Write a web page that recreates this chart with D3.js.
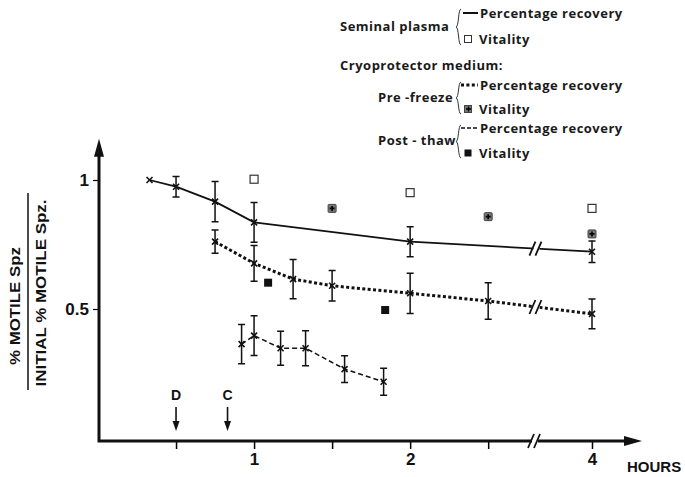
<!DOCTYPE html>
<html>
<head>
<meta charset="utf-8">
<script src="https://cdn.jsdelivr.net/npm/d3@7"></script>
<style>
  body { margin: 0; background: #fff; }
  svg { display: block; font-family: 'Liberation Sans', Arial, sans-serif; }
</style>
</head>
<body>
<div id="chart"></div>
<script>
// values: time in hours, ratio of motile spz to initial
const plasmaHours = [0.33, 0.5, 0.75, 1, 2, 4];
const plasmaRecovery = [1.0, 0.974, 0.916, 0.836, 0.761, 0.722];
const plasmaError = [0, 0.04, 0.078, 0.077, 0.058, 0.042];
const plasmaVitalityHours = [1, 2, 4];
const plasmaVitality = [1.003, 0.951, 0.89];

const preHours = [0.75, 1, 1.25, 1.5, 2, 2.5, 4];
const preRecovery = [0.761, 0.677, 0.616, 0.59, 0.561, 0.531, 0.481];
const preError = [0.045, 0.069, 0.076, 0.059, 0.078, 0.071, 0.058];
const preVitalityHours = [1.5, 2.5, 4];
const preVitality = [0.89, 0.858, 0.791];

const postHours = [0.92, 1, 1.17, 1.33, 1.58, 1.83];
const postRecovery = [0.364, 0.397, 0.348, 0.348, 0.267, 0.218];
const postError = [0.076, 0.077, 0.066, 0.068, 0.052, 0.052];
const postVitalityHours = [1.09, 1.84];
const postVitality = [0.602, 0.496];

const xTicks = [0.5, 1, 1.5, 2, 2.5, 4];
const xTickLabels = ['', '1', '', '2', '', '4'];
const yTicks = [0.5, 1];
const yTickLabels = ['0.5', '1'];
const eventLabels = ['D', 'C'];
const eventHours = [0.5, 0.83];
const breakHour = 2.8;

class MotilityChart {
  constructor(selector) {
    this.selector = selector;
    this.svg = null;
    this.width = 685;
    this.height = 477;
    this.origin = { x: 99, y: 441 };
    this.scales = { x: null, y: null };
  }

  draw() {
    return this
      .setUpSVG()
      .setUpScales()
      .drawAxes()
      .drawSeries()
      .drawVitality()
      .drawEvents()
      .drawLegend();
  }

  setUpSVG() {
    this.svg = d3.select(this.selector)
      .append('svg')
      .attr('width', this.width)
      .attr('height', this.height);
    return this;
  }

  setUpScales() {
    // broken time axis: linear to the break, compressed afterwards
    this.scales.x = d3.scaleLinear()
      .domain([0, breakHour, 4])
      .range([this.origin.x - 1, 535, 592]);
    this.scales.y = d3.scaleLinear()
      .domain([0, 1])
      .range([438, 180]);
    return this;
  }

  drawAxes() {
    const { x, y } = this.scales;
    const { origin } = this;
    const top = y(1.16);
    const right = 632;

    this.svg.append('g')
      .attr('transform', `translate(${origin.x},0)`)
      .call(d3.axisLeft(y)
        .tickValues(yTicks)
        .tickFormat((_, i) => yTickLabels[i])
        .tickSize(6)
        .tickPadding(4))
      .call((g) => g.select('.domain').remove())
      .call((g) => g.selectAll('line').attr('stroke-width', 1.2))
      .call((g) => g.selectAll('text')
        .attr('font-size', 17)
        .attr('font-weight', 'bold')
        .attr('fill', '#111'));

    this.svg.append('g')
      .attr('transform', `translate(0,${origin.y})`)
      .call(d3.axisBottom(x)
        .tickValues(xTicks)
        .tickFormat((_, i) => xTickLabels[i])
        .tickSize(8)
        .tickPadding(4))
      .call((g) => g.select('.domain').remove())
      .call((g) => g.selectAll('line').attr('stroke-width', 1.5))
      .call((g) => g.selectAll('text')
        .attr('font-size', 17)
        .attr('font-weight', 'bold')
        .attr('fill', '#111'));

    const axes = this.svg.append('g')
      .attr('stroke', '#111')
      .attr('fill', 'none');

    axes.append('path')
      .attr('stroke-width', 3)
      .attr('d', `M${origin.x},${top + 10}V${origin.y}H${right}`);

    // arrow heads
    axes.append('path')
      .attr('fill', '#111')
      .attr('stroke', 'none')
      .attr('d', `M${origin.x},${top}l-5,18h10z M${right + 10},${origin.y}l-18,-5v10z`);

    // break on the time axis
    const bx = x(breakHour);
    axes.append('rect')
      .attr('x', bx - 3)
      .attr('y', origin.y - 4)
      .attr('width', 6)
      .attr('height', 8)
      .attr('fill', '#fff')
      .attr('stroke', 'none');
    axes.append('path')
      .attr('stroke-width', 1.8)
      .attr('d', `M${bx - 7},${origin.y + 7}L${bx - 1},${origin.y - 7}M${bx - 1},${origin.y + 7}L${bx + 5},${origin.y - 7}`);

    this.svg.append('text')
      .attr('x', 627)
      .attr('y', 472)
      .attr('font-family', "'Liberation Sans Narrow', 'Liberation Sans', sans-serif")
      .attr('font-size', 15)
      .attr('font-weight', 'bold')
      .attr('fill', '#111')
      .text('HOURS');

    // y label as a fraction, stretched like the original lettering
    const label = this.svg.append('g')
      .attr('transform', 'translate(28,296) rotate(-90)')
      .attr('font-weight', 'bold')
      .attr('font-size', 14)
      .attr('fill', '#111')
      .attr('text-anchor', 'middle');
    label.append('text')
      .attr('x', -10)
      .attr('y', -8)
      .attr('textLength', 118)
      .attr('lengthAdjust', 'spacingAndGlyphs')
      .text('% MOTILE Spz');
    label.append('line')
      .attr('x1', -94)
      .attr('x2', 103)
      .attr('stroke', '#111')
      .attr('stroke-width', 1.5);
    label.append('text')
      .attr('x', 3)
      .attr('y', 18)
      .attr('textLength', 187)
      .attr('lengthAdjust', 'spacingAndGlyphs')
      .text('INITIAL % MOTILE Spz.');

    return this;
  }

  drawSeries() {
    const { x, y } = this.scales;
    const series = [
      { hours: plasmaHours, values: plasmaRecovery, errors: plasmaError, dash: null, width: 1.8 },
      { hours: preHours, values: preRecovery, errors: preError, dash: '3 2.4', width: 3 },
      { hours: postHours, values: postRecovery, errors: postError, dash: '5 3', width: 1.5 },
    ];

    const line = d3.line()
      .x((d) => x(d.hour))
      .y((d) => y(d.value));

    series.forEach((s) => {
      const points = s.hours.map((hour, i) => ({ hour, value: s.values[i], error: s.errors[i] }));
      const g = this.svg.append('g');

      g.append('path')
        .datum(points)
        .attr('fill', 'none')
        .attr('stroke', '#111')
        .attr('stroke-width', s.width)
        .attr('stroke-dasharray', s.dash)
        .attr('d', line);

      // break in lines that cross the axis gap
      const last = points[points.length - 1];
      const prev = points[points.length - 2];
      if (last.hour > breakHour && prev.hour < breakHour) {
        const h = breakHour + 0.03;
        const t = (x(h) - x(prev.hour)) / (x(last.hour) - x(prev.hour));
        const by = y(prev.value) + t * (y(last.value) - y(prev.value));
        const bx = x(h);
        g.append('rect')
          .attr('x', bx - 3)
          .attr('y', by - 4)
          .attr('width', 6)
          .attr('height', 8)
          .attr('fill', '#fff');
        g.append('path')
          .attr('stroke', '#111')
          .attr('stroke-width', 1.8)
          .attr('d', `M${bx - 7},${by + 7}L${bx - 1},${by - 7}M${bx - 1},${by + 7}L${bx + 5},${by - 7}`);
      }

      const bars = g.selectAll('g.bar')
        .data(points.filter((d) => d.error > 0))
        .join('g')
        .attr('stroke', '#111')
        .attr('stroke-width', 1.5);
      bars.append('path')
        .attr('d', (d) => {
          const cx = x(d.hour);
          const y0 = y(d.value - d.error);
          const y1 = y(d.value + d.error);
          return `M${cx},${y1}V${y0}M${cx - 3.5},${y1}h7M${cx - 3.5},${y0}h7`;
        });

      g.selectAll('path.cross')
        .data(points)
        .join('path')
        .attr('class', 'cross')
        .attr('stroke', '#111')
        .attr('stroke-width', 1.6)
        .attr('d', (d) => {
          const cx = x(d.hour);
          const cy = y(d.value);
          return `M${cx - 3},${cy - 3}l6,6M${cx - 3},${cy + 3}l6,-6`;
        });
    });

    return this;
  }

  drawVitality() {
    const { x, y } = this.scales;
    const size = 8;

    const square = (hours, values) => this.svg.append('g')
      .selectAll('g')
      .data(hours.map((hour, i) => ({ hour, value: values[i] })))
      .join('g')
      .attr('transform', (d) => `translate(${x(d.hour)},${y(d.value)})`);

    square(plasmaVitalityHours, plasmaVitality)
      .append('rect')
      .attr('x', -size / 2)
      .attr('y', -size / 2)
      .attr('width', size)
      .attr('height', size)
      .attr('fill', '#fff')
      .attr('stroke', '#333')
      .attr('stroke-width', 1.2);

    square(preVitalityHours, preVitality)
      .call((g) => g.append('rect')
        .attr('x', -size / 2)
        .attr('y', -size / 2)
        .attr('width', size)
        .attr('height', size)
        .attr('rx', 1)
        .attr('fill', '#777')
        .attr('stroke', '#444'))
      .call((g) => g.append('path')
        .attr('stroke', '#000')
        .attr('stroke-width', 1.6)
        .attr('d', 'M-2.5,0h5M0,-2.5v5'));

    square(postVitalityHours, postVitality)
      .append('rect')
      .attr('x', -size / 2)
      .attr('y', -size / 2)
      .attr('width', size)
      .attr('height', size)
      .attr('fill', '#111');

    return this;
  }

  drawEvents() {
    const { x } = this.scales;
    const g = this.svg.append('g')
      .selectAll('g')
      .data(eventLabels.map((label, i) => ({ label, hour: eventHours[i] })))
      .join('g')
      .attr('transform', (d) => `translate(${x(d.hour)},0)`);

    g.append('text')
      .attr('y', 400)
      .attr('text-anchor', 'middle')
      .attr('font-size', 14)
      .attr('font-weight', 'bold')
      .attr('fill', '#111')
      .text((d) => d.label);
    g.append('path')
      .attr('stroke', '#111')
      .attr('stroke-width', 1.6)
      .attr('d', 'M0,407V422');
    g.append('path')
      .attr('fill', '#111')
      .attr('d', 'M0,431l-3.5,-10h7z');

    return this;
  }

  drawLegend() {
    const legend = this.svg.append('g')
      .attr('font-family', "'Open Sans', 'Liberation Sans', sans-serif")
      .attr('font-weight', 'bold')
      .attr('font-size', 13)
      .attr('letter-spacing', 0.5)
      .attr('fill', '#1a1a1a');

    const text = (x, y, s) => legend.append('text')
      .attr('x', x)
      .attr('y', y)
      .attr('dy', '0.35em')
      .text(s);

    const brace = (x, y0, y1) => {
      const mid = (y0 + y1) / 2;
      legend.append('path')
        .attr('fill', 'none')
        .attr('stroke', '#333')
        .attr('stroke-width', 1)
        .attr('d', `M${x + 3},${y0}C${x},${y0} ${x + 1},${mid} ${x - 2},${mid}C${x + 1},${mid} ${x},${y1} ${x + 3},${y1}`);
    };

    // seminal plasma
    text(340, 26, 'Seminal plasma');
    brace(458, 9, 45);
    legend.append('path').attr('stroke', '#111').attr('stroke-width', 2).attr('d', 'M463,13H478');
    text(480, 13, 'Percentage recovery');
    legend.append('rect').attr('x', 464.5).attr('y', 35.5).attr('width', 7).attr('height', 7)
      .attr('fill', '#fff').attr('stroke', '#333');
    text(479, 39, 'Vitality');

    text(340, 65, 'Cryoprotector medium:');

    // pre-freeze
    text(378, 97, 'Pre -freeze');
    brace(458, 82, 114);
    legend.append('path').attr('stroke', '#111').attr('stroke-width', 3)
      .attr('stroke-dasharray', '3 2.4').attr('d', 'M461,85H478');
    text(480, 85, 'Percentage recovery');
    legend.append('rect').attr('x', 464.5).attr('y', 105.5).attr('width', 7).attr('height', 7)
      .attr('fill', '#777').attr('stroke', '#444');
    legend.append('path').attr('stroke', '#000').attr('stroke-width', 1.4).attr('d', 'M466,109h5M468.5,106.5v5');
    text(479, 109, 'Vitality');

    // post-thaw
    text(378, 140, 'Post - thaw');
    brace(458, 125, 158);
    legend.append('path').attr('stroke', '#111').attr('stroke-width', 1.5)
      .attr('stroke-dasharray', '4 2').attr('d', 'M461,128H478');
    text(480, 128, 'Percentage recovery');
    legend.append('rect').attr('x', 464.5).attr('y', 149.5).attr('width', 7).attr('height', 7)
      .attr('fill', '#111');
    text(479, 153, 'Vitality');

    return this;
  }
}

new MotilityChart('#chart').draw();
</script>
</body>
</html>
